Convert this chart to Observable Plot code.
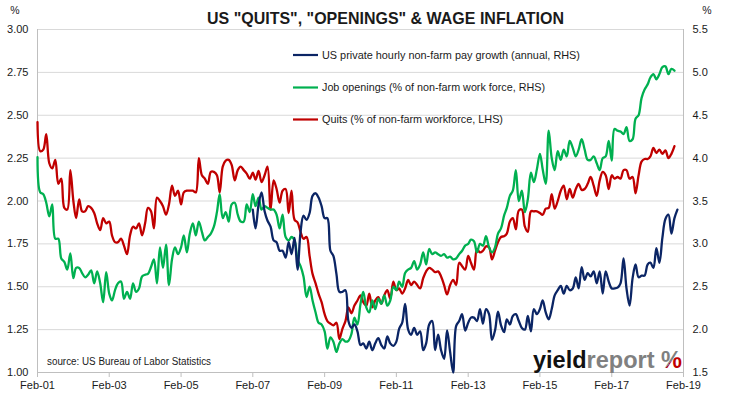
<!DOCTYPE html>
<html><head><meta charset="utf-8">
<script src="https://cdn.jsdelivr.net/npm/d3@7"></script>
<script src="https://cdn.jsdelivr.net/npm/@observablehq/plot@0.6"></script>
<style>
body{margin:0;background:#fff;}
#wrap{position:relative;width:731px;height:398px;overflow:hidden;background:#fff;}
#wrap svg.ov{position:absolute;left:0;top:0;pointer-events:none;}
</style></head><body><div id="wrap"></div>
<script>
// Monthly data, first value = Feb-01
const quits = [ // % of non-farm workforce, LHS
2.46,2.29,2.30,2.39,2.22,2.19,2.24,2.10,2.13,1.96,1.95,2.18,
2.00,1.90,2.01,1.94,1.94,1.97,1.96,1.93,1.87,1.83,1.90,1.87,
1.88,1.80,1.76,1.76,1.78,1.74,1.69,1.80,1.85,1.84,1.87,1.80,
1.87,1.96,1.94,1.84,2.02,2.00,1.97,1.92,1.98,2.09,2.03,2.06,
1.98,2.05,2.06,2.06,2.06,2.05,2.25,2.15,2.13,2.10,2.17,2.17,
2.15,2.05,2.20,2.235,2.24,2.21,2.12,2.18,2.20,2.18,2.16,2.13,
2.165,2.125,2.175,2.11,2.15,2.20,1.95,2.12,2.07,1.99,2.06,2.07,
1.93,2.06,1.89,1.875,1.82,1.78,1.79,1.68,1.575,1.52,1.46,1.41,
1.34,1.30,1.285,1.275,1.29,1.195,1.255,1.30,1.38,1.345,1.39,1.42,
1.45,1.41,1.39,1.46,1.38,1.42,1.44,1.40,1.45,1.48,1.43,1.53,
1.48,1.49,1.46,1.49,1.54,1.51,1.53,1.51,1.49,1.55,1.59,1.61,
1.60,1.585,1.59,1.56,1.51,1.455,1.51,1.54,1.51,1.64,1.62,1.60,
1.68,1.64,1.60,1.72,1.70,1.71,1.735,1.73,1.66,1.71,1.76,1.79,
1.795,1.81,1.88,1.90,1.835,1.945,1.95,1.85,1.82,1.94,1.94,1.94,
1.93,1.92,1.955,1.96,2.04,1.955,2.00,2.06,2.09,2.01,2.07,2.02,
2.07,2.10,2.065,2.07,2.10,2.14,2.09,2.03,2.12,2.17,2.15,2.07,
2.15,2.13,2.14,2.13,2.18,2.18,2.13,2.14,2.045,2.15,2.23,2.245,
2.245,2.26,2.31,2.28,2.30,2.275,2.295,2.25,2.275,2.32];

const openings = [ // % of non-farm work force, RHS
4.01,3.60,3.58,3.48,3.32,3.46,3.06,3.06,2.83,2.79,2.70,2.89,
2.60,2.72,2.72,2.66,2.61,2.64,2.69,2.54,2.68,2.54,2.32,2.67,
2.42,2.34,2.46,2.54,2.56,2.36,2.44,2.36,2.54,2.44,2.48,2.62,
2.64,2.65,2.73,2.82,2.54,2.96,2.72,2.99,2.52,2.82,2.96,2.88,
2.96,3.10,2.90,3.12,3.24,3.10,3.26,3.14,3.04,3.08,3.12,3.20,
3.37,3.58,3.30,3.37,3.26,3.46,3.48,3.34,3.26,3.26,3.46,3.37,
3.58,3.44,3.54,3.40,3.44,3.42,3.40,3.40,3.34,3.18,3.34,3.08,
3.04,3.08,3.04,2.82,2.74,2.62,2.38,2.50,2.34,2.20,2.08,2.06,
1.98,1.78,1.91,1.86,1.74,1.84,1.89,1.86,1.87,1.95,2.14,2.06,
2.30,2.44,2.26,2.20,2.34,2.24,2.36,2.30,2.40,2.28,2.34,2.50,
2.46,2.56,2.50,2.66,2.70,2.72,2.80,2.70,2.76,2.90,2.76,2.94,
2.88,2.90,2.88,2.86,2.88,2.84,2.85,2.82,2.83,2.88,2.92,2.98,
3.00,3.05,3.03,2.90,3.00,2.98,3.09,2.96,2.90,2.96,3.12,3.18,
3.33,3.42,3.56,3.62,3.86,3.50,3.62,3.37,3.52,3.83,3.72,3.87,
4.05,3.87,3.70,4.32,4.00,3.86,4.08,3.98,4.10,4.02,4.20,4.12,
4.02,4.10,4.22,4.10,3.98,3.98,4.02,3.94,3.86,4.00,4.02,4.20,
3.97,4.34,4.32,4.31,4.28,4.36,4.20,4.22,4.46,4.50,4.70,4.80,
4.86,4.94,4.98,4.92,4.98,5.06,5.07,4.98,5.04,5.02];

const payStartMonth = 72; // Feb-07
const payGrowth = [ // US private hourly non-farm pay growth, annual %, RHS
3.40,3.18,3.46,3.60,3.38,3.27,3.20,3.04,3.02,2.92,2.92,2.84,
3.02,2.88,3.07,2.70,3.14,3.33,3.28,3.36,3.56,3.59,3.54,3.44,
3.30,3.30,2.92,2.86,2.65,2.44,2.44,2.46,2.10,2.02,2.06,1.98,
1.82,1.84,1.78,1.86,1.76,1.84,1.90,1.82,1.78,1.92,1.84,1.81,
1.86,2.01,2.08,2.30,2.00,1.94,2.02,1.94,1.98,1.76,1.84,2.06,
2.10,1.76,1.94,1.76,1.66,1.99,1.74,1.50,2.04,2.10,2.18,1.99,
2.08,2.14,2.14,2.10,2.24,2.07,2.24,2.18,1.88,1.99,2.21,2.05,
1.97,2.12,2.06,2.16,2.18,2.10,2.02,2.00,2.16,1.98,2.24,2.18,
2.24,2.34,2.20,2.12,2.24,2.40,2.46,2.51,2.42,2.51,2.46,2.48,
2.61,2.48,2.73,2.58,2.66,2.62,2.68,2.54,2.68,2.42,2.68,2.56,
2.48,2.48,2.49,2.54,2.83,2.48,2.28,2.60,2.76,2.61,2.63,2.63,
2.76,2.78,2.72,2.95,2.78,3.07,3.29,3.34,3.12,3.30,3.40];

const xTickLabels = ["Feb-01","Feb-03","Feb-05","Feb-07","Feb-09","Feb-11","Feb-13","Feb-15","Feb-17","Feb-19"];
const leftTicks = [1.00,1.25,1.50,1.75,2.00,2.25,2.50,2.75,3.00];
const rightTicks = [1.5,2.0,2.5,3.0,3.5,4.0,4.5,5.0,5.5];
const seriesNames = ["US private hourly non-farm pay growth (annual, RHS)","Job openings (% of non-farm work force, RHS)","Quits (% of non-farm workforce, LHS)"];
const seriesColors = ["#0b2565","#00b050","#c00000"];

const toLeft = r => r / 2 + 0.25;      // RHS value -> LHS scale
const monthDate = m => new Date(2001, 1 + m, 1);
const parseLabel = s => new Date(2000 + +s.slice(4), 1, 1);

const quitsRows = quits.map((v, i) => ({date: monthDate(i), y: v}));
const openRows = openings.map((v, i) => ({date: monthDate(i), y: toLeft(v)}));
const payRows = payGrowth.map((v, i) => ({date: monthDate(payStartMonth + i), y: toLeft(v)}));
const xTickDates = xTickLabels.map(parseLabel);
const fmt = d3.timeFormat("%b-%y");

const plot = Plot.plot({
  width: 731, height: 398,
  marginLeft: 37, marginRight: 48, marginTop: 29, marginBottom: 26,
  style: {fontFamily: "'Liberation Sans', Arial, sans-serif", fontSize: "11px", color: "#1a1a1a", background: "#fff"},
  x: {type: "time", domain: [xTickDates[0], xTickDates[xTickDates.length - 1]]},
  y: {domain: [1, 3]},
  marks: [
    Plot.gridY(leftTicks.slice(1), {stroke: "#d9d9d9", strokeOpacity: 1}),
    Plot.ruleY([1], {stroke: "#bfbfbf"}),
    Plot.ruleX([xTickDates[0], xTickDates[xTickDates.length - 1]], {stroke: "#bfbfbf"}),
    Plot.axisX(xTickDates, {tickFormat: fmt, tickSize: 5, tickPadding: 4, stroke: "#bfbfbf", fill: "#1a1a1a", label: null}),
    Plot.axisY(leftTicks, {anchor: "left", tickSize: 0, tickPadding: 9, tickFormat: d => d.toFixed(2), fill: "#1a1a1a", label: null}),
    Plot.axisY(rightTicks.map(toLeft), {anchor: "right", tickSize: 0, tickPadding: 9, tickFormat: d => (2 * d - 0.5).toFixed(1), fill: "#1a1a1a", label: null}),
    Plot.line(quitsRows, {x: "date", y: "y", stroke: seriesColors[2], strokeWidth: 2.3, curve: "catmull-rom"}),
    Plot.line(openRows, {x: "date", y: "y", stroke: seriesColors[1], strokeWidth: 2.3, curve: "catmull-rom"}),
    Plot.line(payRows, {x: "date", y: "y", stroke: seriesColors[0], strokeWidth: 2.3, curve: "catmull-rom"})
  ]
});
const wrap = document.getElementById("wrap");
wrap.appendChild(plot);

// Overlay: title, unit labels, legend, source, logo
const ov = d3.select(wrap).append("svg").attr("class", "ov").attr("width", 731).attr("height", 398)
  .style("font-family", "'Liberation Sans', Arial, sans-serif");
const defs = ov.append("defs");
const g = defs.append("linearGradient").attr("id", "pct").attr("gradientUnits", "userSpaceOnUse")
  .attr("x1", 661).attr("y1", 350).attr("x2", 682).attr("y2", 368);
g.append("stop").attr("offset", "0.55").attr("stop-color", "#7f7f7f");
g.append("stop").attr("offset", "0.55").attr("stop-color", "#c00000");

ov.append("text").attr("x", 207).attr("y", 24).attr("font-size", 17).attr("font-weight", "bold").attr("fill", "#1a1a1a")
  .attr("textLength", 357).attr("lengthAdjust", "spacingAndGlyphs").text('US "QUITS", "OPENINGS" & WAGE INFLATION');
ov.append("text").attr("x", 15).attr("y", 14).attr("font-size", 10.5).attr("text-anchor", "middle").attr("fill", "#1a1a1a").text("%");
ov.append("text").attr("x", 707).attr("y", 14).attr("font-size", 10.5).attr("text-anchor", "middle").attr("fill", "#1a1a1a").text("%");

const legY = [55, 87.5, 119.5];
const legW = [258, 223, 181];
seriesNames.forEach((name, i) => {
  ov.append("line").attr("x1", 293).attr("x2", 318).attr("y1", legY[i]).attr("y2", legY[i])
    .attr("stroke", seriesColors[i]).attr("stroke-width", 2.2);
  ov.append("text").attr("x", 322).attr("y", legY[i] + 3.8).attr("font-size", 10.5).attr("fill", "#1a1a1a")
    .attr("textLength", legW[i]).attr("lengthAdjust", "spacingAndGlyphs").text(name);
});

ov.append("text").attr("x", 47).attr("y", 365).attr("font-size", 10).attr("fill", "#1a1a1a")
  .attr("textLength", 164).attr("lengthAdjust", "spacingAndGlyphs").text("source: US Bureau of Labor Statistics");

const logo = ov.append("text").attr("x", 533).attr("y", 368).attr("font-size", 23.5).attr("font-weight", "bold");
logo.append("tspan").attr("fill", "#111").text("yield");
logo.append("tspan").attr("fill", "#808080").text("report ");
logo.append("tspan").attr("fill", "url(#pct)").text("%");
</script></body></html>
